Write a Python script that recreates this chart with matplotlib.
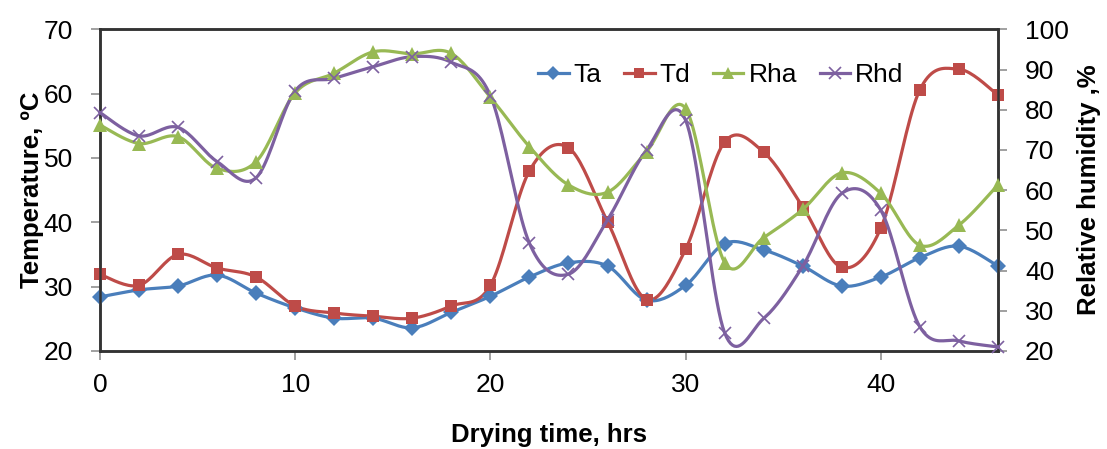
import numpy as np
import matplotlib
matplotlib.use("Agg")
import matplotlib.pyplot as plt

# drying time, hrs
hours = list(range(0, 48, 2))

# temperatures, degC (left axis)
ta = [28.4, 29.5, 30.1, 31.8, 29.0, 26.7, 25.1, 25.1, 23.6, 26.0, 28.5, 31.5,
      33.7, 33.2, 27.9, 30.2, 36.7, 35.7, 33.2, 30.1, 31.5, 34.5, 36.3, 33.2]
td = [31.9, 30.2, 35.0, 32.9, 31.5, 27.0, 25.9, 25.4, 25.1, 27.0, 30.2, 48.0,
      51.6, 40.1, 28.0, 35.8, 52.5, 50.9, 42.4, 33.0, 39.1, 60.6, 63.8, 59.8]

# relative humidity, % (right axis)
rha = [76.2, 71.6, 73.3, 65.4, 67.1, 84.2, 89.1, 94.4, 93.9, 94.0, 83.1, 70.8,
       61.3, 59.5, 69.6, 80.3, 42.0, 48.2, 55.2, 64.3, 59.2, 46.3, 51.3, 61.3]
rhd = [79.3, 73.5, 75.6, 67.1, 63.1, 84.7, 87.8, 90.7, 93.2, 91.8, 83.5, 46.8,
       39.1, 52.6, 70.0, 77.4, 24.5, 28.1, 41.1, 59.2, 55.0, 26.0, 22.5, 21.0]

FONT = ['Liberation Sans', 'DejaVu Sans']
plt.rcParams['font.family'] = FONT


def smooth(x, y, n=20):
    # excel-like smoothed line (catmull-rom through the points)
    x = np.asarray(x, float)
    y = np.asarray(y, float)
    px = np.concatenate([[x[0]], x, [x[-1]]])
    py = np.concatenate([[y[0]], y, [y[-1]]])
    xs, ys = [], []
    t = np.linspace(0, 1, n, endpoint=False)
    for i in range(1, len(px) - 2):
        p0, p1, p2, p3 = px[i-1], px[i], px[i+1], px[i+2]
        q0, q1, q2, q3 = py[i-1], py[i], py[i+1], py[i+2]
        c1x, c1y = p1 + (p2 - p0) / 6, q1 + (q2 - q0) / 6
        c2x, c2y = p2 - (p3 - p1) / 6, q2 - (q3 - q1) / 6
        b = [(1-t)**3, 3*(1-t)**2*t, 3*(1-t)*t**2, t**3]
        xs.append(b[0]*p1 + b[1]*c1x + b[2]*c2x + b[3]*p2)
        ys.append(b[0]*q1 + b[1]*c1y + b[2]*c2y + b[3]*q2)
    xs.append([x[-1]])
    ys.append([y[-1]])
    return np.concatenate(xs), np.concatenate(ys)


fig = plt.figure(figsize=(11.07, 4.49), dpi=100)
ax = fig.add_axes([0.0903, 0.2183, 0.8112, 0.7164])
ax2 = ax.twinx()

series = [
    (ax, ta, 'Ta', '#4A7EBB', 'D', 8),
    (ax, td, 'Td', '#BE4B48', 's', 8.5),
    (ax2, rha, 'Rha', '#98B954', '^', 10),
    (ax2, rhd, 'Rhd', '#7D60A0', 'x', 9),
]
handles = []
for a, vals, name, col, mk, ms in series:
    sx, sy = smooth(hours, vals)
    a.plot(sx, sy, color=col, lw=2.3, zorder=3, clip_on=False)
    a.plot(hours, vals, ls='none', marker=mk, ms=ms, color=col,
           mew=1.2 if mk == 'x' else 0, zorder=4, clip_on=False)
    h, = ax.plot([], [], color=col, lw=2.3, marker=mk, ms=ms * 0.9,
                 mew=1.2 if mk == 'x' else 0, label=name)
    handles.append(h)

ax.set_xlim(0, 46)
ax.set_ylim(20, 70)
ax2.set_ylim(20, 100)
ax.set_xticks([0, 10, 20, 30, 40])
ax.set_yticks(range(20, 71, 10))
ax2.set_yticks(range(20, 101, 10))

for a in (ax, ax2):
    a.tick_params(direction='out', length=6.5, width=1.2, color='#909090',
                  labelsize=19, pad=13)
    for s in a.spines.values():
        s.set_linewidth(1.8)
        s.set_color('#333333')
ax.tick_params(axis='x', pad=9)

ax.set_xlabel('Drying time, hrs', fontweight='bold', fontsize=18.5,
              labelpad=19)
ax.set_ylabel('Temperature, ºC', fontweight='bold', fontsize=18.5,
              labelpad=0)
ax2.set_ylabel('Relative humidity ,%', fontweight='bold', fontsize=18.5,
               labelpad=6)

leg = ax.legend(handles=handles, loc='center left', ncol=4, frameon=False,
                prop={'size': 19}, handlelength=1.15,
                handletextpad=0.2, columnspacing=0.85,
                borderaxespad=0, borderpad=0,
                bbox_to_anchor=(0.488, 0.858))

fig.savefig('out.png', dpi=100)
